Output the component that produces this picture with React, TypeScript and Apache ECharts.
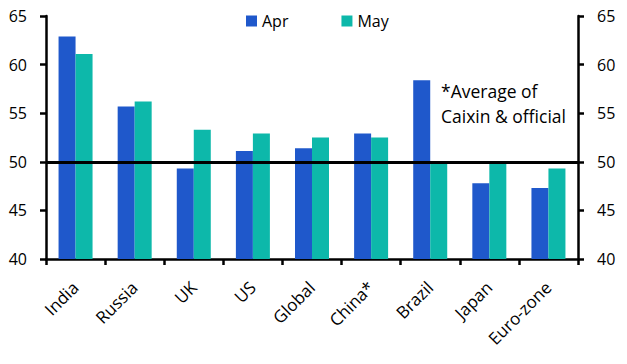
import React, { useEffect, useRef } from "react";
import * as echarts from "echarts";

const categories = ["India", "Russia", "UK", "US", "Global", "China*", "Brazil", "Japan", "Euro-zone"];
const aprValues = [62.9, 55.7, 49.3, 51.1, 51.4, 52.9, 58.4, 47.8, 47.3];
const mayValues = [61.1, 56.2, 53.3, 52.9, 52.5, 52.5, 50.0, 50.0, 49.3];
const seriesNames = ["Apr", "May"];
const noteLines = ["*Average of", "Caixin & official"];

const FONT = "'Open Sans', 'Noto Sans', sans-serif";

export default function App() {
  const ref = useRef<HTMLDivElement>(null);
  useEffect(() => {
    if (!ref.current) return;
    const chart = echarts.init(ref.current, null, { renderer: "svg" });
    const axisCommon = {
      type: "value",
      min: 40,
      max: 65,
      interval: 5,
      axisLine: { show: true, lineStyle: { color: "#000", width: 2.5 } },
      axisTick: { show: true, inside: false, length: 6, lineStyle: { color: "#000", width: 2.5 } },
      splitLine: { show: false },
      axisLabel: { color: "#000", fontSize: 16, fontFamily: FONT, margin: 19 },
    };
    chart.setOption({
      animation: false,
      textStyle: { fontFamily: FONT },
      legend: {
        top: 13,
        left: 246,
        padding: 0,
        itemWidth: 11,
        itemHeight: 11,
        itemGap: 53,
        icon: "rect",
        textStyle: { fontSize: 16, color: "#000", fontFamily: FONT },
        data: seriesNames,
      },
      grid: { left: 46, right: 49, top: 16, bottom: 105, containLabel: false },
      xAxis: {
        type: "category",
        data: categories,
        axisLine: { lineStyle: { color: "#000", width: 2.5 } },
        axisTick: { show: true, alignWithLabel: false, length: 6, lineStyle: { color: "#000", width: 2.5 } },
        axisLabel: {
          rotate: 45,
          color: "#000",
          fontSize: 17,
          fontFamily: FONT,
          margin: 13,
          interval: 0,
          align: "right",
          verticalAlign: "top",
          padding: [0, 9, 0, 0],
        },
      },
      yAxis: [
        { ...axisCommon, position: "left" },
        { ...axisCommon, position: "right" },
      ],
      graphic: [
        {
          type: "text",
          left: 441,
          top: 78,
          style: {
            text: noteLines.join("\n"),
            fontSize: 17.5,
            lineHeight: 25,
            fill: "#000",
            fontFamily: FONT,
          },
        },
      ],
      series: [
        {
          name: seriesNames[0],
          type: "bar",
          data: aprValues,
          barWidth: 17,
          barGap: "0%",
          itemStyle: { color: "#1F58CB" },
          markLine: {
            silent: true,
            symbol: "none",
            label: { show: false },
            lineStyle: { color: "#000", width: 3, type: "solid" },
            data: [{ yAxis: 50 }],
            z: 10,
          },
        },
        {
          name: seriesNames[1],
          type: "bar",
          data: mayValues,
          barWidth: 17,
          barGap: "0%",
          itemStyle: { color: "#0DB8AA" },
        },
      ],
    });
    return () => chart.dispose();
  }, []);
  return <div ref={ref} style={{ width: 627, height: 364, margin: -8 }} />;
}
